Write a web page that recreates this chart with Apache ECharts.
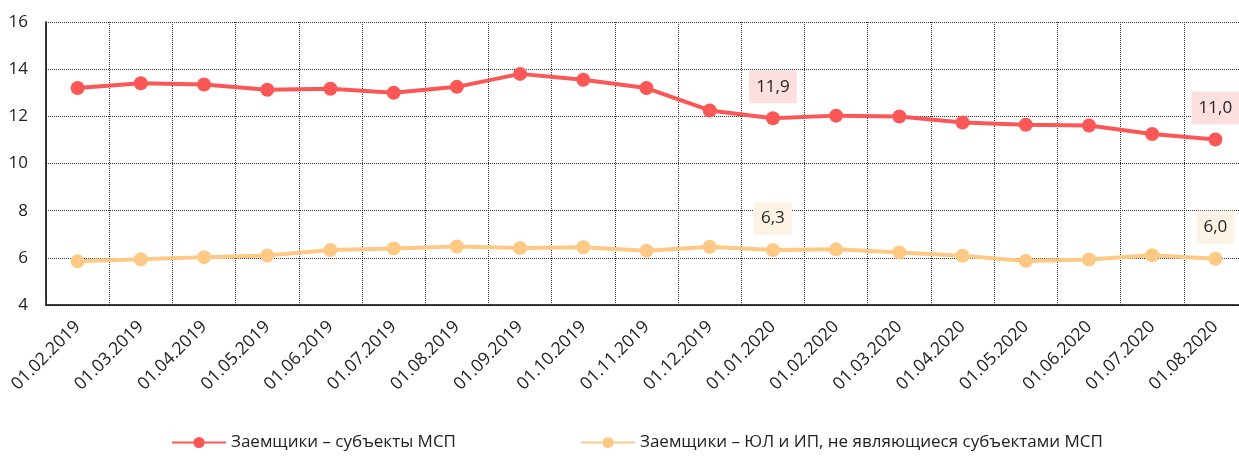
<!DOCTYPE html>
<html>
<head>
<meta charset="utf-8">
<script src="https://cdn.jsdelivr.net/npm/echarts@6/dist/echarts.min.js"></script>
<style>html,body{margin:0;padding:0;background:#fff;}#c{width:1239px;height:456px;}</style>
</head>
<body>
<div id="c"></div>
<script>
var categories = ["01.02.2019","01.03.2019","01.04.2019","01.05.2019","01.06.2019","01.07.2019","01.08.2019","01.09.2019","01.10.2019","01.11.2019","01.12.2019","01.01.2020","01.02.2020","01.03.2020","01.04.2020","01.05.2020","01.06.2020","01.07.2020","01.08.2020"];
var smeValues = [13.2,13.4,13.35,13.13,13.17,13.0,13.25,13.8,13.55,13.2,12.25,11.92,12.03,11.99,11.74,11.64,11.61,11.25,11.02];
var nonSmeValues = [5.85,5.94,6.03,6.1,6.33,6.4,6.48,6.42,6.45,6.3,6.47,6.33,6.36,6.23,6.09,5.87,5.93,6.11,5.96];
var labelIdx = [11,18];
var smeName = "Заемщики – субъекты МСП";
var nonSmeName = "Заемщики – ЮЛ и ИП, не являющиеся субъектами МСП";
var yTicks = {min:4,max:16,interval:2};

var FONT = "'Open Sans', sans-serif";
function mk(vals, bg){
  return vals.map(function(v,i){
    if(labelIdx.indexOf(i) >= 0){
      return {value:v, label:{show:true, position:'top', distance:8,
        formatter:function(p){return p.value.toFixed(1).replace('.',',');},
        backgroundColor:bg, padding:[8,7,8,7], color:'#222', fontSize:17, fontFamily:FONT}};
    }
    return v;
  });
}
var chart = echarts.init(document.getElementById('c'));
chart.setOption({
  animation:false,
  grid:{left:46, width:1201, top:22, bottom:151, outerBoundsMode:'none', containLabel:false},
  legend:{bottom:0, left:166, itemGap:124, itemWidth:54, itemHeight:14,
    textStyle:{fontSize:17, color:'#222', fontFamily:FONT},
    data:[smeName, nonSmeName]},
  xAxis:{type:'category', data:categories, boundaryGap:true,
    axisLine:{lineStyle:{color:'#000', width:1.5}},
    axisTick:{show:true, length:4, inside:true, lineStyle:{color:'#333', type:'dotted'}},
    splitLine:{show:true, lineStyle:{color:'#333', type:'dotted', width:1}},
    axisLabel:{rotate:45, fontSize:17.5, color:'#222', fontFamily:FONT, margin:19, interval:0}},
  yAxis:{type:'value', min:yTicks.min, max:yTicks.max, interval:yTicks.interval,
    axisLine:{show:true, lineStyle:{color:'#000', width:1.5}},
    axisTick:{show:false},
    splitLine:{show:true, lineStyle:{color:'#333', type:'dotted', width:1}},
    axisLabel:{fontSize:17, color:'#222', fontFamily:FONT, margin:18}},
  series:[
    {name:smeName, type:'line', data:mk(smeValues,'#fddfdf'), symbol:'circle', symbolSize:14,
      lineStyle:{color:'#fb5757', width:4}, itemStyle:{color:'#fb5757'}, z:3},
    {name:nonSmeName, type:'line', data:mk(nonSmeValues,'#fdf3e5'), symbol:'circle', symbolSize:14,
      lineStyle:{color:'#fec984', width:4}, itemStyle:{color:'#fec984'}, z:2}
  ]
});
</script>
</body>
</html>
